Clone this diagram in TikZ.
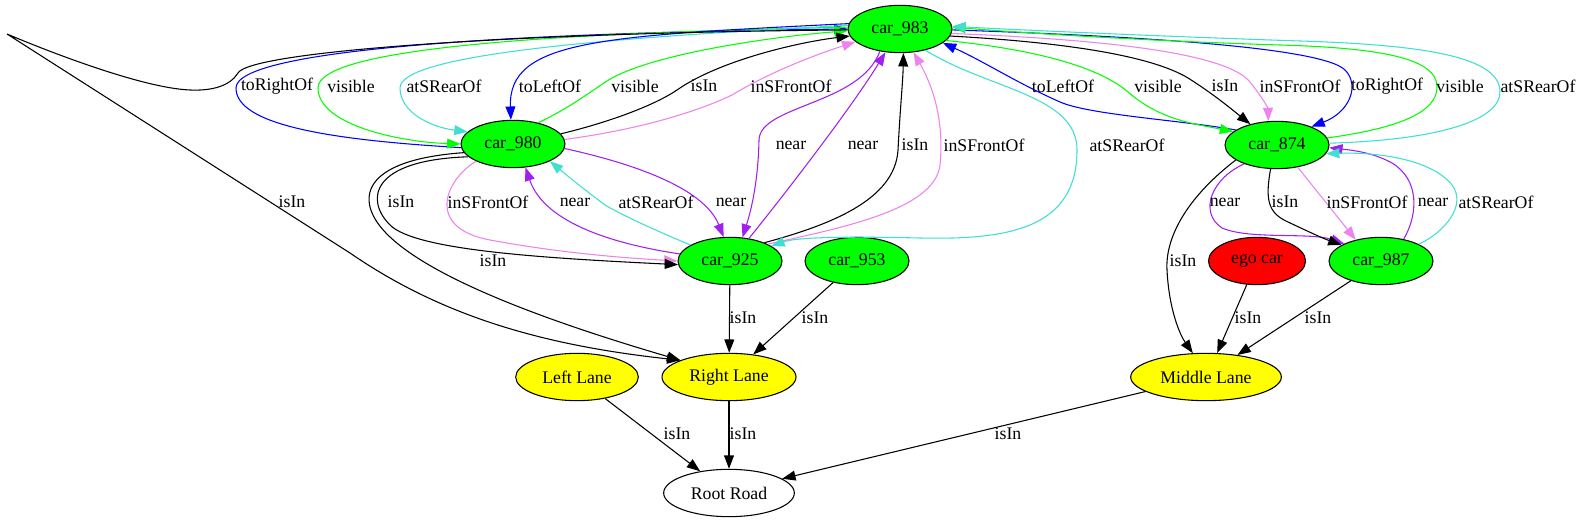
\documentclass[tikz,border=0pt]{standalone}
\usepackage{fontspec}
\setmainfont{Liberation Serif}
\newfontfamily\graphfont{Liberation Serif}
\usetikzlibrary{arrows.meta,shapes.geometric}
\definecolor{SceneGreen}{HTML}{00FF00}
\definecolor{SceneRed}{HTML}{FF0000}
\definecolor{SceneYellow}{HTML}{FFFF00}
\definecolor{RelBlue}{HTML}{0000FF}
\definecolor{RelGreen}{HTML}{00FF00}
\definecolor{RelTurq}{HTML}{40E0D0}
\definecolor{RelViolet}{HTML}{EE82EE}
\definecolor{RelPurple}{HTML}{A020F0}

\begin{document}
\begin{tikzpicture}[x=0.75pt,y=-0.75pt,font=\graphfont\fontsize{13.3}{15}\selectfont]
\tikzset{
  obj/.style={ellipse,draw,line width=0.8pt,inner sep=0pt,minimum height=35.5pt},
  car/.style={obj,fill=SceneGreen,minimum width=78pt},
  egocar/.style={obj,fill=SceneRed,minimum width=72.75pt},
  lane/.style={obj,fill=SceneYellow},
  road/.style={obj,fill=white,minimum width=98pt},
  lbl/.style={inner sep=1pt},
  rel/.style={line width=0.8pt,-{Triangle[length=10pt,width=7.4pt]}}
}
\fill[white] (0,0) rectangle (1583,523);
\useasboundingbox (0,0) rectangle (1583,523);

\node[car] (car983) at (900,29) {car\_983};
\node[car] (car980) at (513,144) {car\_980};
\node[car] (car874) at (1277,145) {car\_874};
\node[car] (car925) at (730,261) {car\_925};
\node[car] (car953) at (857,261) {car\_953};
\node[egocar] (ego) at (1257,261) {ego car};
\node[car] (car987) at (1381,261) {car\_987};
\node[lane,minimum width=92pt] (leftlane) at (577,377) {Left Lane};
\node[lane,minimum width=100.5pt] (rightlane) at (729,377) {Right Lane};
\node[lane,minimum width=113pt] (midlane) at (1206,377) {Middle Lane};
\node[road] (root) at (729,493) {Root Road};

\draw[rel,RelBlue] (car980.184) .. controls (330,140) and (236,125) .. (236,88) .. controls (236,50) and (500,33) .. (car983.180);
\draw[rel,RelGreen] (car983.178) .. controls (550,33) and (318,48) .. (318,88) .. controls (318,125) and (400,142) .. (car980.180);
\draw[rel,RelTurq] (car983.176) .. controls (600,38) and (400,55) .. (400,88) .. controls (400,112) and (430,127) .. (car980.165);
\draw[rel,RelBlue] (car983.174) .. controls (600,36) and (508,40) .. (car980.95);
\draw[rel,RelGreen] (car980.40) .. controls (575,105) and (595,88) .. (612,78) .. controls (660,52) and (780,36) .. (car983.182);
\draw[rel] (car980.12) .. controls (610,122) and (655,105) .. (677,90) .. controls (720,60) and (800,42) .. (car983.188);
\draw[rel,RelViolet] (car980.5) .. controls (650,128) and (705,108) .. (732,95) .. controls (770,72) and (815,55) .. (car983.196);
\draw[rel] (car983.181) .. controls (500,33) and (250,52) .. (238,73) .. controls (230,86) and (212,91) .. (190,90) .. controls (140,88) and (40,48) .. (7,34) -- (350,253) .. controls (440,315) and (540,345) .. (rightlane.161);

\draw[rel,RelBlue] (car874.160) .. controls (1180,120) and (1090,115) .. (1060,102) .. controls (1015,82) and (985,62) .. (car983.342);
\draw[rel,RelGreen] (car983.346) .. controls (1040,50) and (1100,68) .. (1128,92) .. controls (1160,120) and (1195,124) .. (car874.163);
\draw[rel] (car983.352) .. controls (1060,42) and (1150,55) .. (1188,78) .. controls (1215,95) and (1235,112) .. (car874.142);
\draw[rel,RelViolet] (car983.355) .. controls (1120,40) and (1228,55) .. (1250,82) .. controls (1262,97) and (1268,108) .. (car874.110);
\draw[rel,RelBlue] (car983.359) .. controls (1100,35) and (1320,45) .. (1345,70) .. controls (1360,85) and (1350,112) .. (car874.28);
\draw[rel,RelGreen] (car874.8) .. controls (1400,128) and (1437,112) .. (1437,87) .. controls (1437,58) and (1380,48) .. (1280,45) .. controls (1120,40) and (1000,31) .. (car983.2);
\draw[rel,RelTurq] (car874.2) .. controls (1440,140) and (1500,120) .. (1500,92) .. controls (1500,58) and (1430,45) .. (1300,41) .. controls (1150,36) and (1000,29) .. (car983.3);

\draw[rel,RelPurple] (car983.228) .. controls (860,105) and (760,105) .. (759,140) .. controls (758,190) and (748,220) .. (car925.62);
\draw[rel,RelPurple] (car925.50) .. controls (780,200) and (850,110) .. (car983.238);
\draw[rel] (car925.28) .. controls (830,225) and (895,200) .. (898,150) .. controls (900,110) and (903,80) .. (car983.278);
\draw[rel,RelViolet] (car925.24) .. controls (840,228) and (935,210) .. (940,165) .. controls (944,125) and (935,90) .. (car983.300);
\draw[rel,RelTurq] (car983.320) .. controls (990,90) and (1077,95) .. (1077,150) .. controls (1077,228) and (1010,240) .. (920,238) .. controls (830,236) and (795,238) .. (car925.20);

\draw[rel,RelPurple] (car980.355) .. controls (640,165) and (705,190) .. (car925.105);
\draw[rel,RelTurq] (car925.158) .. controls (650,228) and (622,215) .. (605,205) .. controls (585,190) and (570,178) .. (car980.335);
\draw[rel,RelPurple] (car925.172) .. controls (620,245) and (545,225) .. (car980.298);
\draw[rel,RelViolet] (car980.205) .. controls (445,180) and (425,228) .. (490,240) .. controls (560,253) and (625,258) .. (car925.180);
\draw[rel] (car980.196) .. controls (370,160) and (365,200) .. (390,225) .. controls (415,250) and (540,258) .. (car925.184);
\draw[rel] (car980.190) .. controls (360,160) and (355,200) .. (385,232) .. controls (430,280) and (560,325) .. (rightlane.161);

\draw[rel] (car874.200) .. controls (1190,195) and (1165,235) .. (1167,270) .. controls (1169,310) and (1180,335) .. (midlane.119);
\draw[rel,RelPurple] (car874.210) .. controls (1212,178) and (1198,212) .. (1222,228) .. controls (1250,240) and (1310,232) .. (car987.155);
\draw[rel] (car874.255) .. controls (1265,200) and (1268,213) .. (1288,222) .. controls (1305,230) and (1322,238) .. (car987.158);
\draw[rel,RelViolet] (car874.313) -- (car987.140);
\draw[rel,RelPurple] (car987.44) .. controls (1418,215) and (1420,180) .. (1392,163) .. controls (1372,152) and (1350,150) .. (car874.357);
\draw[rel,RelTurq] (car987.24) .. controls (1445,232) and (1467,205) .. (1452,185) .. controls (1432,160) and (1380,152) .. (car874.350);

\draw[rel] (car925) -- (rightlane);
\draw[rel] (car953) -- (rightlane.43);
\draw[rel] (ego) -- (midlane.65);
\draw[rel] (car987) -- (midlane.35);
\draw[rel] (leftlane) -- (root.143);
\draw[rel] (rightlane) -- (root);
\draw[rel] (midlane) -- (root.15);

\node[lbl] (a1) at (277,86) {toRightOf};
\node[lbl] (a2) at (351,86) {visible};
\node[lbl] (a3) at (444,86) {atSRearOf};
\node[lbl] (a4) at (550,86) {toLeftOf};
\node[lbl] (a5) at (635,86) {visible};
\node[lbl] (a6) at (704,86) {isIn};
\node[lbl] (a7) at (791,86) {inSFrontOf};
\node[lbl] (a8) at (1063,86) {toLeftOf};
\node[lbl] (a9) at (1158,86) {visible};
\node[lbl] (a10) at (1225,86) {isIn};
\node[lbl] (a11) at (1300,86) {inSFrontOf};
\node[lbl] (a12) at (1387,86) {toRightOf};
\node[lbl] (a13) at (1460,86) {visible};
\node[lbl] (a14) at (1538,86) {atSRearOf};
\node[lbl] (b1) at (791,145) {near};
\node[lbl] (b2) at (863,145) {near};
\node[lbl] (b3) at (915,145) {isIn};
\node[lbl] (b4) at (984,145) {inSFrontOf};
\node[lbl] (b5) at (1127,145) {atSRearOf};
\node[lbl] (c1) at (292,202) {isIn};
\node[lbl] (c2) at (401,202) {isIn};
\node[lbl] (c3) at (488,202) {inSFrontOf};
\node[lbl] (c4) at (575,202) {near};
\node[lbl] (c5) at (656,202) {atSRearOf};
\node[lbl] (c6) at (731,202) {near};
\node[lbl] (c7) at (1225,202) {near};
\node[lbl] (c8) at (1285,202) {isIn};
\node[lbl] (c9) at (1367,202) {inSFrontOf};
\node[lbl] (c10) at (1433,202) {near};
\node[lbl] (c11) at (1496,202) {atSRearOf};
\node[lbl] (d1) at (493,261) {isIn};
\node[lbl] (d2) at (1183,261) {isIn};
\node[lbl] (e1) at (743,318) {isIn};
\node[lbl] (e2) at (815,318) {isIn};
\node[lbl] (e3) at (1248,318) {isIn};
\node[lbl] (e4) at (1318,318) {isIn};
\node[lbl] (f1) at (677,434) {isIn};
\node[lbl] (f2) at (743,434) {isIn};
\node[lbl] (f3) at (1008,434) {isIn};
\end{tikzpicture}
\end{document}
